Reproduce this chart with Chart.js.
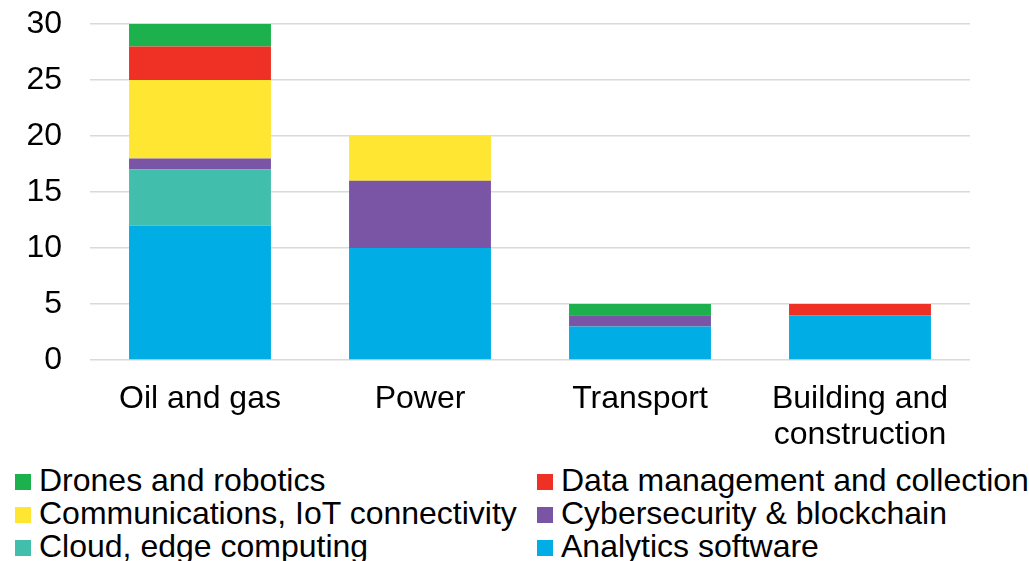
<!DOCTYPE html>
<html>
<head>
<meta charset="utf-8">
<script src="https://cdn.jsdelivr.net/npm/chart.js@4/dist/chart.umd.min.js"></script>
<style>
  body { margin: 0; background: #fff; }
  #wrap { position: relative; width: 1029px; height: 561px; overflow: hidden; }
  #chartBox { position: absolute; left: 0; top: 0; width: 1029px; height: 460px; }
  #legend {
    position: absolute; left: 15px; top: 464px;
    display: grid; grid-template-columns: 522px auto;
    font-family: "Liberation Sans", Arial, sans-serif; font-size: 32px;
    line-height: 33px; color: #000;
  }
  .item { display: flex; align-items: center; white-space: nowrap; }
  .box { width: 16px; height: 16px; margin-right: 8px; flex: none; position: relative; top: 1px; }
</style>
</head>
<body>
<div id="wrap">
  <div id="chartBox"><canvas id="chart"></canvas></div>
  <div id="legend"></div>
</div>
<script>
// 데이터
var categories = ["Oil and gas", "Power", "Transport", ["Building and", "construction"]];
var analytics = [12, 10, 3, 4];
var cloud = [5, 0, 0, 0];
var cyber = [1, 6, 1, 0];
var comms = [7, 4, 0, 0];
var dataMgmt = [3, 0, 0, 1];
var drones = [2, 0, 1, 0];
var yTicks = [0, 5, 10, 15, 20, 25, 30];

var font = "'Liberation Sans', Arial, sans-serif";

function ds(label, data, color) {
  return { label: label, data: data, backgroundColor: color, borderWidth: 0 };
}

var chart = new Chart(document.getElementById("chart").getContext("2d"), {
  type: "bar",
  data: {
    labels: categories,
    datasets: [
      ds("Analytics software", analytics, "#00ade4"),
      ds("Cloud, edge computing", cloud, "#42bfac"),
      ds("Cybersecurity & blockchain", cyber, "#7a54a5"),
      ds("Communications, IoT connectivity", comms, "#ffe633"),
      ds("Data management and collection", dataMgmt, "#ee3124"),
      ds("Drones and robotics", drones, "#1db14e"),
    ],
  },
  options: {
    responsive: true,
    maintainAspectRatio: false,
    animation: false,
    layout: { padding: { top: 24, right: 59, left: 0, bottom: 0 } },
    datasets: { bar: { categoryPercentage: 1, barPercentage: 0.645 } },
    plugins: { legend: { display: false }, tooltip: { enabled: false } },
    scales: {
      x: {
        stacked: true,
        grid: { display: false, drawTicks: false },
        border: { display: false },
        ticks: { color: "#000", padding: 21, font: { family: font, size: 32, lineHeight: 1.13 } },
        afterFit: function (scale) { scale.height = 100; },
      },
      y: {
        stacked: true,
        min: 0,
        max: 30,
        afterBuildTicks: function (scale) {
          scale.ticks = yTicks.map(function (v) { return { value: v }; });
        },
        grid: { color: "#d9d9d9", lineWidth: 1.5, drawTicks: false },
        border: { display: false },
        ticks: { color: "#000", padding: 28, font: { family: font, size: 32 } },
        afterFit: function (scale) {
          scale.width = 90;
          scale.paddingTop = 0;
          scale.paddingBottom = 0;
        },
      },
    },
  },
});

// 범례 (역순, 2열)
var legend = document.getElementById("legend");
chart.data.datasets.slice().reverse().forEach(function (d) {
  var item = document.createElement("div");
  item.className = "item";
  var box = document.createElement("span");
  box.className = "box";
  box.style.background = d.backgroundColor;
  item.appendChild(box);
  item.appendChild(document.createTextNode(d.label));
  legend.appendChild(item);
});
</script>
</body>
</html>
